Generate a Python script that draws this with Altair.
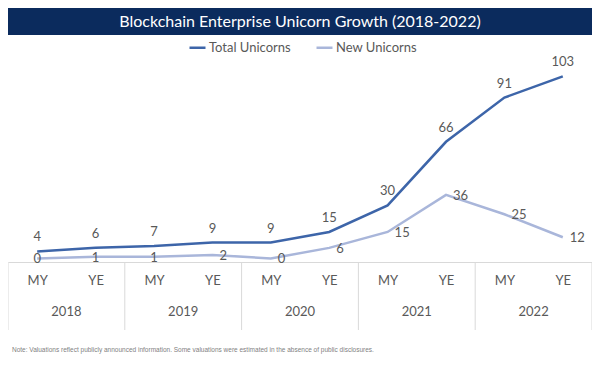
import altair as alt
import pandas as pd

# ---- data ----
periods = ["MY", "YE", "MY", "YE", "MY", "YE", "MY", "YE", "MY", "YE"]
years = ["2018", "2019", "2020", "2021", "2022"]
total_unicorns = [4, 6, 7, 9, 9, 15, 30, 66, 91, 103]
new_unicorns = [0, 1, 1, 2, 0, 6, 15, 36, 25, 12]
series_names = ["Total Unicorns", "New Unicorns"]
title_text = "Blockchain Enterprise Unicorn Growth (2018-2022)"
note_text = ("Note: Valuations reflect publicly announced information. "
             "Some valuations were estimated in the absence of public disclosures.")

idx = list(range(len(periods)))
wide = pd.DataFrame({"idx": idx, "period": periods,
                     "total": total_unicorns, "new": new_unicorns})
long = pd.concat([
    pd.DataFrame({"idx": idx, "value": total_unicorns, "series": series_names[0]}),
    pd.DataFrame({"idx": idx, "value": new_unicorns, "series": series_names[1]}),
], ignore_index=True)
year_df = pd.DataFrame({"idx": [2 * i + 0.5 for i in range(len(years))], "year": years})
sep_df = pd.DataFrame({"idx": [2 * i - 0.5 for i in range(len(years) + 1)]})

W, H = 584, 198
FONT = "Lato"
GRAY = "#595959"
xscale = alt.Scale(domain=[-0.5, len(idx) - 0.5], nice=False, zero=False)
yscale = alt.Scale(domain=[-2, 110], nice=False, zero=False)
xaxis = alt.Axis(values=idx, labelExpr="datum.value % 2 == 0 ? 'MY' : 'YE'",
                 ticks=False, grid=False, domainColor="#d9d9d9", domainWidth=1,
                 labelPadding=12, labelFontSize=13, labelColor=GRAY,
                 labelFont=FONT, title=None)
X = alt.X("idx:Q", scale=xscale, axis=xaxis)

lines = alt.Chart(long).mark_line(strokeWidth=2.5).encode(
    x=X,
    y=alt.Y("value:Q", scale=yscale, axis=None),
    color=alt.Color("series:N",
                    scale=alt.Scale(domain=series_names, range=["#3d65a9", "#a9b6da"]),
                    legend=alt.Legend(title=None, orient="none", direction="horizontal",
                                      legendX=180, legendY=-26, symbolType="stroke",
                                      symbolSize=256, symbolStrokeWidth=2.5,
                                      labelFont=FONT, labelFontSize=13, labelColor=GRAY,
                                      columnPadding=20, labelOffset=2)),
)

total_labels = alt.Chart(wide).mark_text(dy=-14, fontSize=13, color=GRAY, font=FONT).encode(
    x=X,
    y=alt.Y("total:Q", scale=yscale, axis=None),
    text="total:Q",
)

new_labels_c = alt.Chart(wide).transform_filter("datum.idx < 3").mark_text(
    dy=1, fontSize=13, color=GRAY, font=FONT).encode(
    x=X,
    y=alt.Y("new:Q", scale=yscale, axis=None),
    text="new:Q",
)
new_labels_r = alt.Chart(wide).transform_filter("datum.idx >= 3").mark_text(
    dx=7, dy=1, align="left", fontSize=13, color=GRAY, font=FONT).encode(
    x=X,
    y=alt.Y("new:Q", scale=yscale, axis=None),
    text="new:Q",
)

year_labels = alt.Chart(year_df).mark_text(fontSize=13, color=GRAY, font=FONT).encode(
    x=X,
    y=alt.value(248),
    text="year:N",
)

separators = alt.Chart(sep_df).mark_rule(color="#d9d9d9", strokeWidth=1).encode(
    x=X,
    y=alt.value(H),
    y2=alt.value(H + 68),
)

title_df = pd.DataFrame({"t": [title_text]})
banner = alt.Chart(title_df).mark_rect(color="#0b2b5d").encode(
    x=alt.value(0), x2=alt.value(W), y=alt.value(-56), y2=alt.value(-29),
)
title = alt.Chart(title_df).mark_text(color="white", fontSize=16, font=FONT).encode(
    x=alt.value(W / 2), y=alt.value(-42), text="t:N",
)

note = alt.Chart(pd.DataFrame({"t": [note_text]})).mark_text(
    align="left", fontSize=6.5, color="#7f7f7f", font="Liberation Sans").encode(
    x=alt.value(4), y=alt.value(286), text="t:N",
)

chart = alt.layer(
    separators, lines, total_labels, new_labels_c, new_labels_r,
    year_labels, banner, title, note,
).properties(
    width=W, height=H,
    padding={"left": 0, "top": 56, "right": 0, "bottom": 96},
    autosize="none",
).configure_view(stroke=None)

chart.save("out.html", embed_options={"renderer": "svg", "actions": False})
